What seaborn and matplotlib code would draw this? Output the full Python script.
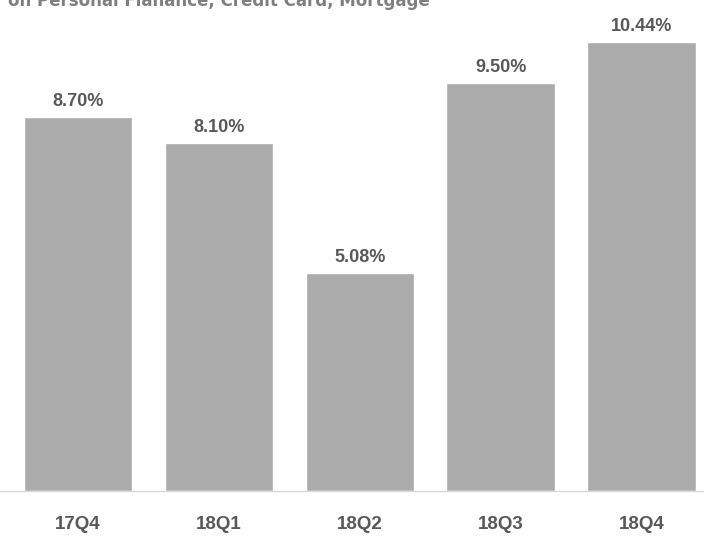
import matplotlib
matplotlib.use("Agg")
import matplotlib.pyplot as plt
import seaborn as sns
import pandas as pd

# %% data
quarters = ['17Q4', '18Q1', '18Q2', '18Q3', '18Q4']
rates = [8.70, 8.10, 5.08, 9.50, 10.44]
rate_labels = ['8.70%', '8.10%', '5.08%', '9.50%', '10.44%']
title_text = 'on Personal Flanance, Credit Card, Mortgage'

df = pd.DataFrame({'Quarter': quarters, 'Rate': rates})

# %% plot
sns.set_style('white')
plt.rcParams['font.family'] = ['Liberation Sans', 'DejaVu Sans']

fig = plt.figure(figsize=(7.04, 5.4), dpi=100)
ax = fig.add_axes([0, 0.0907, 1, 0.9093])

sns.barplot(x='Quarter', y='Rate', data=df, color='#ABABAB', saturation=1,
            width=0.77, ax=ax)

for i, (v, lab) in enumerate(zip(rates, rate_labels)):
    ax.annotate(lab, (i, v), xytext=(0, 5), textcoords='offset points',
                ha='center', va='bottom', fontsize=13, fontweight='bold',
                color='#595959')

ax.set_ylim(0, 11.42)
ax.set_xlim(-0.554, 4.444)
ax.set_yticks([])
ax.set_xlabel('')
ax.set_ylabel('')
ax.tick_params(axis='x', length=0, pad=18, labelsize=13.5, labelcolor='#595959')
for t in ax.get_xticklabels():
    t.set_fontweight('bold')

for s in ['top', 'right', 'left']:
    ax.spines[s].set_visible(False)
ax.spines['bottom'].set_color('#D9D9D9')
ax.spines['bottom'].set_linewidth(1)

# title sits partly above the top edge, as in the source image
fig.text(0.011, 0.989, title_text, ha='left', va='baseline', fontsize=12,
         fontweight='bold', color='#7F7F7F', family='DejaVu Sans')

fig.savefig('out.png', dpi=100)
